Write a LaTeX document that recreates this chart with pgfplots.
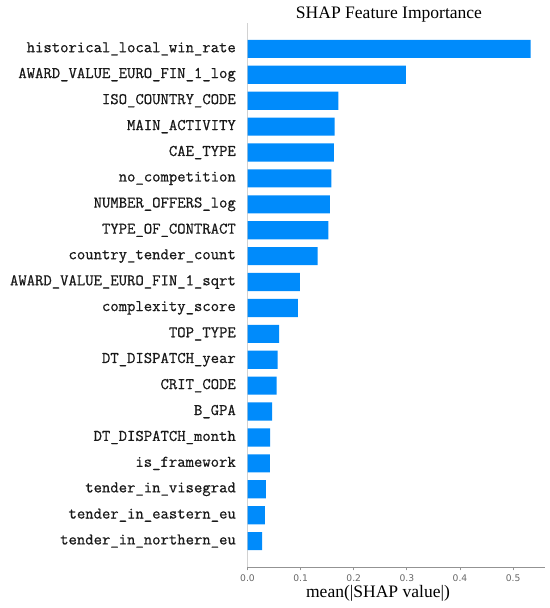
\documentclass[border=0pt]{standalone}
\usepackage{fontspec}
\usepackage{pgfplots}
\pgfplotsset{compat=1.18}
\newfontfamily\tickfont{DejaVu Sans}
\newfontfamily\seriffont{Liberation Serif}
\newfontfamily\labfont[FakeBold=0.7]{Latin Modern Mono}
\definecolor{shapblue}{HTML}{008BFB}
\begin{document}
\begin{tikzpicture}[x=1bp,y=1bp]
\path[use as bounding box] (0,0) rectangle (550,608);
\begin{axis}[
  at={(247.5bp,41bp)}, anchor=south west,
  scale only axis, width=297.5bp, height=544bp,
  xmin=0, xmax=0.56, ymin=-1, ymax=20,
  axis x line*=bottom, axis y line*=left,
  x axis line style={draw=gray!85, line width=0.9bp, -},
  y axis line style={draw=gray!35, line width=1bp, -},
  xtick={0,0.1,0.2,0.3,0.4,0.5},
  xtick align=outside, major tick length=3.5bp,
  xtick style={draw=gray!85, line width=0.8bp},
  xticklabel style={font=\tickfont\fontsize{9.2}{10}\selectfont, text=black!60, inner sep=0pt, anchor=north},
  xticklabel shift=3.5bp,
  /pgf/number format/fixed, /pgf/number format/fixed zerofill, /pgf/number format/precision=1, /pgf/number format/assume math mode=true,
  ytick={0,...,19},
  yticklabels={tender\_in\_northern\_eu, tender\_in\_eastern\_eu, tender\_in\_visegrad, is\_framework, DT\_DISPATCH\_month, B\_GPA, CRIT\_CODE, DT\_DISPATCH\_year, TOP\_TYPE, complexity\_score, AWARD\_VALUE\_EURO\_FIN\_1\_sqrt, country\_tender\_count, TYPE\_OF\_CONTRACT, NUMBER\_OFFERS\_log, no\_competition, CAE\_TYPE, MAIN\_ACTIVITY, ISO\_COUNTRY\_CODE, AWARD\_VALUE\_EURO\_FIN\_1\_log, historical\_local\_win\_rate},
  ytick style={draw=none},
  yticklabel style={font=\labfont\fontsize{16.3}{18}\selectfont, text=black!90, inner sep=0pt, anchor=east},
  yticklabel shift=8bp,
  xbar, bar width=0.7,
]
\addplot[fill=shapblue, draw=none] coordinates {
(0.0275,0) (0.0326,1) (0.0345,2) (0.0420,3) (0.0425,4) (0.0464,5) (0.0546,6) (0.0565,7) (0.0595,8) (0.0947,9)
(0.0985,10) (0.1320,11) (0.1520,12) (0.1550,13) (0.1580,14) (0.1625,15) (0.1640,16) (0.1710,17) (0.2980,18) (0.5330,19)
};
\end{axis}
\node[font=\seriffont\fontsize{17.6}{20}\selectfont, inner sep=0pt] at (389,593) {SHAP Feature Importance};
\node[font=\seriffont\fontsize{17.6}{20}\selectfont, inner sep=0pt] at (378,15) {mean(|SHAP value|)};
\end{tikzpicture}
\end{document}
